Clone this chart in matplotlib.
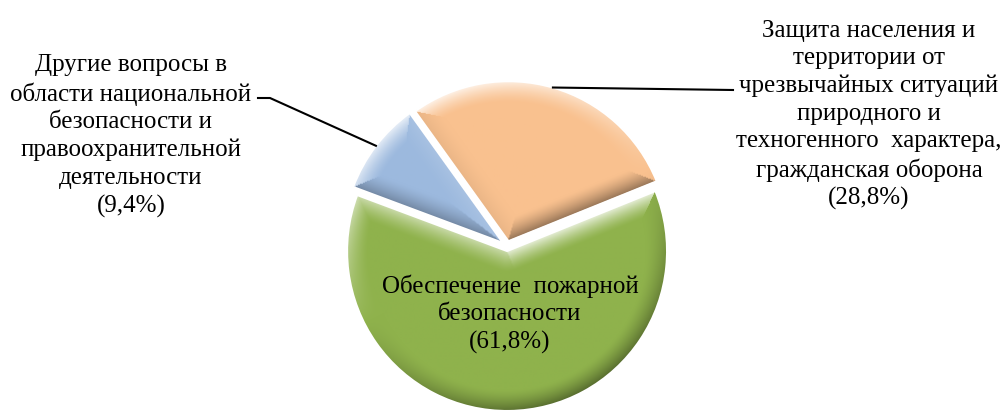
import matplotlib
matplotlib.use("Agg")
import matplotlib.pyplot as plt
import matplotlib.colors as mcolors
import matplotlib.patches as mpatches
import numpy as np

# shares, %
labels = [
    "Защита населения и\nтерритории от\nчрезвычайных ситуаций\nприродного и\nтехногенного  характера,\nгражданская оборона",
    "Другие вопросы в\nобласти национальной\nбезопасности и\nправоохранительной\nдеятельности",
    "Обеспечение  пожарной\nбезопасности",
]
shares = [28.8, 9.4, 61.8]
pct_text = ["(28,8%)", "(9,4%)", "(61,8%)"]
colors = ["#F9C18F", "#9CB9DE", "#8FB24C"]

W, H = 1006, 412
fig = plt.figure(figsize=(W / 100, H / 100), dpi=100)
ax = fig.add_axes([0, 0, 1, 1])

R = 160
wedges, _ = ax.pie(shares, colors=colors, startangle=22, counterclock=True,
                   radius=R, center=(507, 166), explode=[5, 5, 5],
                   wedgeprops=dict(edgecolor="white", linewidth=1.5), frame=True)
ax.set_xlim(0, W)
ax.set_ylim(0, H)
ax.set_aspect("equal")
ax.axis("off")


def bevel(w, base, width=21, light=(-0.45, 0.9)):
    """Soft bevel shading over one wedge, clipped to it."""
    cx, cy = w.center
    r0 = w.r
    t1, t2 = np.deg2rad(w.theta1), np.deg2rad(w.theta2)
    xs = np.arange(cx - r0, cx + r0 + 1, 1.0)
    ys = np.arange(cy - r0, cy + r0 + 1, 1.0)
    X, Y = np.meshgrid(xs, ys)
    dx, dy = X - cx, Y - cy
    rr = np.hypot(dx, dy)
    phi = np.arctan2(dy, dx)
    rel = np.mod(phi - t1, 2 * np.pi)
    # distances to the arc and to both straight edges
    d_arc = r0 - rr
    d1 = rr * np.sin(np.clip(rel, 0, np.pi / 2))
    d2 = rr * np.sin(np.clip((t2 - t1) - rel, 0, np.pi / 2))
    n_arc = np.stack([np.cos(phi), np.sin(phi)])
    n1 = np.array([np.cos(t1 - np.pi / 2), np.sin(t1 - np.pi / 2)])[:, None, None]
    n2 = np.array([np.cos(t2 + np.pi / 2), np.sin(t2 + np.pi / 2)])[:, None, None]
    D = np.stack([d_arc, d1, d2])
    k = np.argmin(D, axis=0)
    d = np.take_along_axis(D, k[None], 0)[0]
    N = np.where(k[None] == 0, n_arc, np.where(k[None] == 1, n1, n2))
    L = np.array(light) / np.hypot(*light)
    lit = N[0] * L[0] + N[1] * L[1]
    prof = np.clip(1 - d / width, 0, 1) ** 1.4
    s = lit * prof
    rgb = np.array(mcolors.to_rgb(base))[None, None, :]
    img = np.where(s[..., None] > 0,
                   rgb + (1 - rgb) * (0.8 * s[..., None]),
                   rgb * (1 + 0.4 * s[..., None]))
    im = ax.imshow(img, origin="lower", extent=(xs[0], xs[-1], ys[0], ys[-1]),
                   interpolation="bilinear", zorder=2)
    im.set_clip_path(w)


for w, c in zip(wedges, colors):
    w.set_zorder(1)
    bevel(w, c)
    # thin white separating edge on top of the shading
    ax.add_patch(mpatches.Wedge(w.center, w.r, w.theta1, w.theta2, fill=False,
                                edgecolor="white", linewidth=1.5, zorder=3))


def mid_point(w):
    a = np.deg2rad((w.theta1 + w.theta2) / 2)
    cx, cy = w.center
    return cx + w.r * np.cos(a), cy + w.r * np.sin(a)


font = dict(family="Liberation Serif", fontsize=18, color="black",
            ha="center", va="center", linespacing=1.32, zorder=5)

# right label (orange slice)
ax.text(869, H - 115, labels[0] + "\n" + pct_text[0], **font)
px, py = mid_point(wedges[0])
ax.plot([px, 733], [py, H - 90], color="black", lw=1.5, zorder=4)

# left label (blue slice)
ax.text(131, H - 136, labels[1] + "\n" + pct_text[1], **font)
px, py = mid_point(wedges[1])
ax.plot([px, 270, 258], [py, H - 98, H - 98], color="black", lw=1.5, zorder=4)

# label inside the green slice
ax.text(510, H - 314, labels[2] + "\n" + pct_text[2], **font)

ax.set_xlim(0, W)
ax.set_ylim(0, H)
fig.savefig("out.png", dpi=100)
